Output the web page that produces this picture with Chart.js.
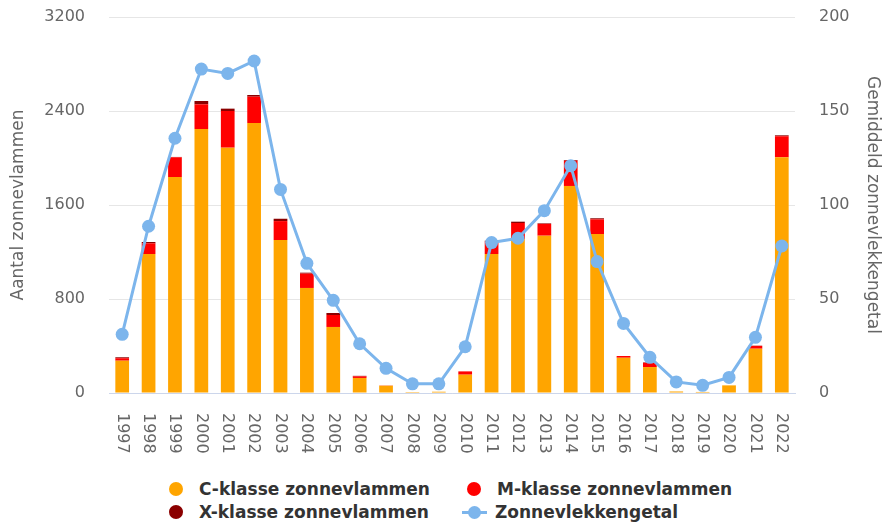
<!DOCTYPE html>
<html>
<head>
<meta charset="utf-8">
<script src="https://cdn.jsdelivr.net/npm/chart.js@4/dist/chart.umd.min.js"></script>
<style>
    html, body { margin: 0; padding: 0; background: #fff; }
    #wrap { position: relative; width: 885px; height: 526px; }
    #box { position: absolute; left: 0; top: 0; width: 885px; height: 470px; }
    #legend {
        position: absolute; left: 169px; top: 477px;
        display: grid; grid-template-columns: 298px 280px;
        font: bold 17px "DejaVu Sans", sans-serif; color: #333;
    }
    .item { display: flex; align-items: center; height: 23.5px; white-space: nowrap; }
    .dot { width: 14px; height: 14px; border-radius: 50%; margin-right: 16px; }
    .line { position: relative; width: 25px; height: 3px; margin-left: -5px; margin-right: 8px; }
    .line span { position: absolute; left: 6px; top: -5px; width: 13px; height: 13px; border-radius: 50%; }
</style>
</head>
<body>
<div id="wrap">
    <div id="box"><canvas id="flareChart"></canvas></div>
    <div id="legend"></div>
</div>
<script>
var years = ['1997','1998','1999','2000','2001','2002','2003','2004','2005','2006','2007','2008','2009',
             '2010','2011','2012','2013','2014','2015','2016','2017','2018','2019','2020','2021','2022'];

// flares per class
var cFlares = [275, 1183, 1838, 2247, 2088, 2298, 1302, 894, 562, 128, 62, 8, 11,
               156, 1183, 1311, 1339, 1762, 1353, 300, 221, 13, 9, 65, 377, 2006];
var mFlares = [21, 91, 168, 210, 312, 224, 161, 122, 102, 14, 2, 0, 0,
               28, 105, 136, 100, 215, 125, 15, 36, 0, 0, 0, 24, 179];
var xFlares = [8, 11, 3, 28, 20, 14, 20, 8, 17, 4, 0, 0, 0,
               0, 8, 11, 5, 6, 9, 0, 4, 0, 0, 0, 2, 8];

// yearly mean sunspot number (right axis)
var sunspots = [31.2, 88.7, 135.5, 172.3, 170.0, 176.6, 108.3, 69.0, 49.3, 26.2, 13.1, 4.9, 4.9,
                24.6, 80.0, 82.3, 97.0, 120.9, 69.9, 37.0, 19.0, 5.9, 4.1, 8.3, 29.6, 78.2];

var txtColor = '#666666';
var font = 'DejaVu Sans';

// x labels read top to bottom, chart.js only rotates the other way
var xLabelPlugin = {
    id: 'xLabels',
    afterDraw: function(chart) {
        var sc = chart.scales.x;
        var ctx = chart.ctx;
        ctx.save();
        ctx.fillStyle = txtColor;
        ctx.font = '16px "' + font + '"';
        ctx.textAlign = 'left';
        ctx.textBaseline = 'middle';
        sc.ticks.forEach(function(t, i) {
            ctx.save();
            ctx.translate(sc.getPixelForTick(i) - 0.5, sc.top + 20);
            ctx.rotate(Math.PI / 2);
            ctx.fillText(chart.data.labels[i], 0, 0);
            ctx.restore();
        });
        ctx.restore();
    }
};

function plain(v) { return String(v); }

// fixed axis widths, and drop the extra top/bottom room the tick padding asks for
function fixWidth(w) {
    return function(s) {
        s.width = w;
        s.paddingTop = 0;
        s.paddingBottom = 0;
    };
}

var ctx = document.getElementById('flareChart').getContext('2d');
var chart = new Chart(ctx, {
    type: 'bar',
    data: {
        labels: years,
        datasets: [
            { label: 'C-klasse zonnevlammen', data: cFlares, backgroundColor: '#ffa500', yAxisID: 'y', order: 1 },
            { label: 'M-klasse zonnevlammen', data: mFlares, backgroundColor: '#ff0000', yAxisID: 'y', order: 1 },
            { label: 'X-klasse zonnevlammen', data: xFlares, backgroundColor: '#8b0000', yAxisID: 'y', order: 1 },
            {
                type: 'line', label: 'Zonnevlekkengetal', data: sunspots, yAxisID: 'y1', order: 0,
                borderColor: '#7cb5ec', backgroundColor: '#7cb5ec', borderWidth: 3,
                pointRadius: 6.5, pointBorderWidth: 0, pointBackgroundColor: '#7cb5ec', tension: 0
            }
        ]
    },
    options: {
        responsive: true,
        maintainAspectRatio: false,
        animation: false,
        layout: { autoPadding: false, padding: { top: 17, bottom: 0, left: 0, right: 0 } },
        plugins: {
            legend: { display: false },
            tooltip: { enabled: false }
        },
        datasets: {
            bar: { categoryPercentage: 1, barPercentage: 0.52 }
        },
        scales: {
            x: {
                stacked: true,
                grid: { display: false },
                border: { color: '#ccd6eb', width: 1 },
                ticks: { color: 'rgba(0,0,0,0)', maxRotation: 90, minRotation: 90, font: { family: font, size: 16 } },
                afterFit: function(s) { s.height = 77; }
            },
            y: {
                stacked: true,
                position: 'left',
                min: 0, max: 3200,
                ticks: { stepSize: 800, color: txtColor, padding: 24, font: { family: font, size: 16 }, callback: plain },
                grid: { color: '#e6e6e6', drawTicks: false },
                border: { display: false },
                title: { display: true, text: 'Aantal zonnevlammen', color: txtColor, padding: 8, font: { family: font, size: 17 } },
                afterFit: fixWidth(109)
            },
            y1: {
                position: 'right',
                min: 0, max: 200,
                ticks: { stepSize: 50, color: txtColor, padding: 24, font: { family: font, size: 16 }, callback: plain },
                grid: { drawOnChartArea: false, drawTicks: false },
                border: { display: false },
                title: { display: true, text: 'Gemiddeld zonnevlekkengetal', color: txtColor, padding: 2, font: { family: font, size: 17 } },
                afterFit: fixWidth(90)
            }
        }
    },
    plugins: [xLabelPlugin]
});

// legend below the chart, two columns like the original
var legendOrder = [0, 1, 2, 3];
var legendEl = document.getElementById('legend');
legendOrder.forEach(function(idx) {
    var ds = chart.data.datasets[idx];
    var item = document.createElement('div');
    item.className = 'item';
    var sym;
    if (ds.type === 'line') {
        sym = document.createElement('div');
        sym.className = 'line';
        sym.style.background = ds.borderColor;
        var dot = document.createElement('span');
        dot.style.background = ds.borderColor;
        sym.appendChild(dot);
    } else {
        sym = document.createElement('div');
        sym.className = 'dot';
        sym.style.background = ds.backgroundColor;
    }
    item.appendChild(sym);
    var label = document.createElement('span');
    label.textContent = ds.label;
    item.appendChild(label);
    legendEl.appendChild(item);
});
</script>
</body>
</html>
